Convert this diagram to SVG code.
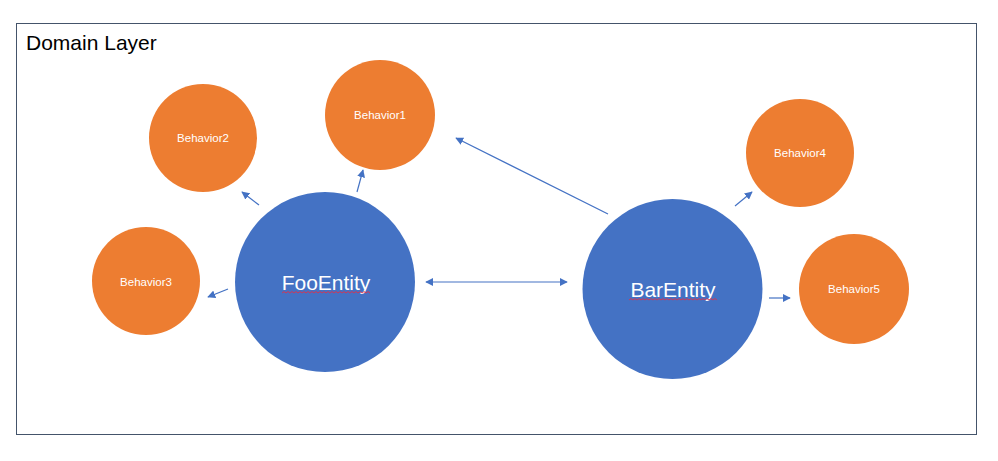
<svg xmlns="http://www.w3.org/2000/svg" width="998" height="461" viewBox="0 0 998 461">
<defs>
<marker id="ah" viewBox="0 0 10 10" refX="9" refY="5" markerWidth="8" markerHeight="8" markerUnits="userSpaceOnUse" orient="auto-start-reverse">
<path d="M0,0 L10,5 L0,10 z" fill="#4472C4"/>
</marker>
<style>
.ent{fill:#4472C4}
.beh{fill:#ED7D31}
.et{font-family:"Liberation Sans",Arial,sans-serif;font-size:21px;fill:#fff;text-anchor:middle}
.bt{font-family:"Liberation Sans",Arial,sans-serif;font-size:11.5px;fill:#fff;text-anchor:middle}
.conn line{stroke:#4472C4;stroke-width:1.2;fill:none}
.sq{stroke:#E0304A;stroke-width:0.9;fill:none}
</style>
</defs>
<rect width="998" height="461" fill="#fff"/>
<g id="domain-layer">
<rect x="16.5" y="23.5" width="960" height="411" fill="none" stroke="#44546A" stroke-width="1"/>
<text x="26" y="50" font-family="'Liberation Sans',Arial,sans-serif" font-size="21" fill="#000">Domain Layer</text>
</g>
<g class="conn" id="connectors">
<line x1="357" y1="192" x2="363" y2="170" marker-end="url(#ah)"/>
<line x1="259" y1="205" x2="242" y2="192" marker-end="url(#ah)"/>
<line x1="228" y1="289" x2="208" y2="297" marker-end="url(#ah)"/>
<line x1="426" y1="282" x2="567" y2="282" marker-start="url(#ah)" marker-end="url(#ah)"/>
<line x1="608" y1="214" x2="456" y2="138" marker-end="url(#ah)"/>
<line x1="735" y1="206" x2="752" y2="192" marker-end="url(#ah)"/>
<line x1="769" y1="298" x2="790" y2="298" marker-end="url(#ah)"/>
</g>
<g id="FooEntity">
<circle class="ent" cx="325" cy="282" r="90"/>
<text class="et" x="326" y="290">FooEntity</text>
<path class="sq" d="M282,293 l2,-1.5 l2,1.5 l2,-1.5 l2,1.5 l2,-1.5 l2,1.5 l2,-1.5 l2,1.5 l2,-1.5 l2,1.5 l2,-1.5 l2,1.5 l2,-1.5 l2,1.5 l2,-1.5 l2,1.5 l2,-1.5 l2,1.5 l2,-1.5 l2,1.5 l2,-1.5 l2,1.5 l2,-1.5 l2,1.5 l2,-1.5 l2,1.5 l2,-1.5 l2,1.5 l2,-1.5 l2,1.5 l2,-1.5 l2,1.5 l2,-1.5 l2,1.5 l2,-1.5 l2,1.5 l2,-1.5 l2,1.5 l2,-1.5 l2,1.5 l2,-1.5 l2,1.5 l2,-1.5 l2,1.5"/>
</g>
<g id="BarEntity">
<circle class="ent" cx="672.5" cy="289" r="90"/>
<text class="et" x="673" y="297">BarEntity</text>
<path class="sq" d="M629,300 l2,-1.5 l2,1.5 l2,-1.5 l2,1.5 l2,-1.5 l2,1.5 l2,-1.5 l2,1.5 l2,-1.5 l2,1.5 l2,-1.5 l2,1.5 l2,-1.5 l2,1.5 l2,-1.5 l2,1.5 l2,-1.5 l2,1.5 l2,-1.5 l2,1.5 l2,-1.5 l2,1.5 l2,-1.5 l2,1.5 l2,-1.5 l2,1.5 l2,-1.5 l2,1.5 l2,-1.5 l2,1.5 l2,-1.5 l2,1.5 l2,-1.5 l2,1.5 l2,-1.5 l2,1.5 l2,-1.5 l2,1.5 l2,-1.5 l2,1.5 l2,-1.5 l2,1.5 l2,-1.5 l2,1.5"/>
</g>
<g id="Behavior1">
<circle class="beh" cx="380" cy="115" r="55"/>
<text class="bt" x="380" y="119">Behavior1</text>
</g>
<g id="Behavior2">
<circle class="beh" cx="203" cy="138" r="54"/>
<text class="bt" x="203" y="142">Behavior2</text>
</g>
<g id="Behavior3">
<circle class="beh" cx="146" cy="281" r="54"/>
<text class="bt" x="146" y="286">Behavior3</text>
</g>
<g id="Behavior4">
<circle class="beh" cx="800" cy="153" r="54"/>
<text class="bt" x="800" y="157">Behavior4</text>
</g>
<g id="Behavior5">
<circle class="beh" cx="854" cy="289" r="55"/>
<text class="bt" x="854" y="293">Behavior5</text>
</g>
</svg>
